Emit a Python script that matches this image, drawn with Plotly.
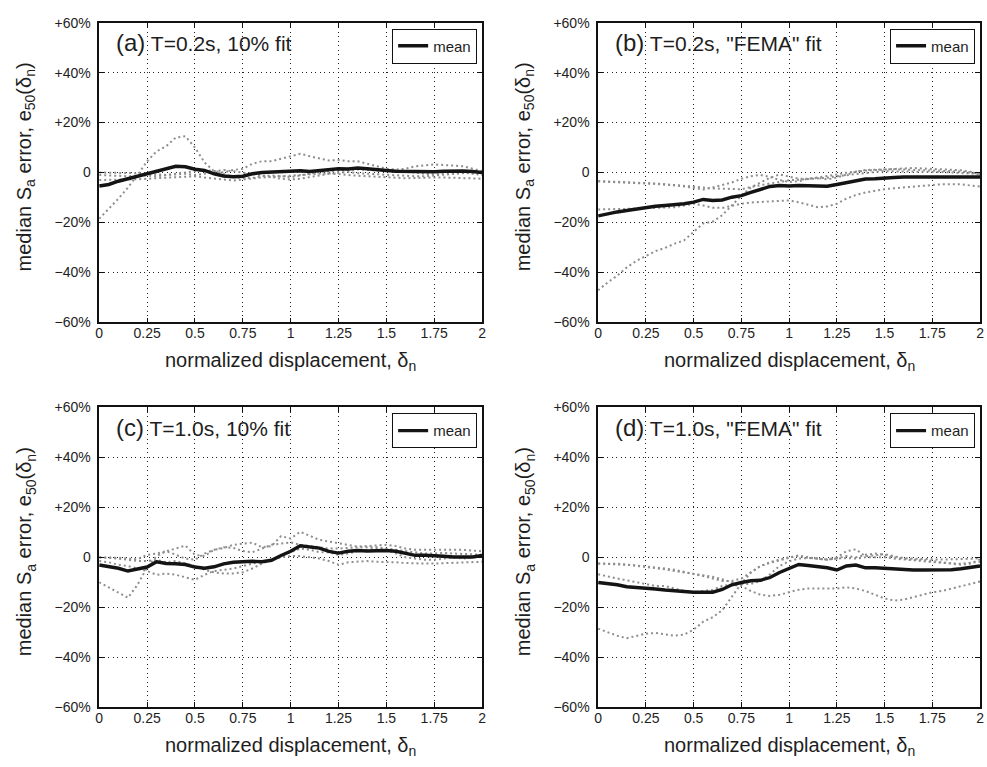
import plotly.graph_objects as go

# normalized displacement grid shared by every curve
disp = [0, 0.05, 0.1, 0.15, 0.2, 0.25, 0.3, 0.35, 0.4, 0.45, 0.5, 0.55, 0.6, 0.65, 0.7,
        0.75, 0.8, 0.85, 0.9, 0.95, 1.0, 1.05, 1.1, 1.15, 1.2, 1.25, 1.3, 1.35, 1.4, 1.45,
        1.5, 1.55, 1.6, 1.65, 1.7, 1.75, 1.8, 1.85, 1.9, 1.95, 2.0]

# (a) T=0.2s, 10% fit  -- error in percent
a_mean = [-5.4, -4.8, -3.5, -2.5, -1.3, -0.3, 0.8, 1.5, 2.5, 2.3, 1.3, 0.8, -0.5, -1.4, -1.7,
          -1.5, -0.5, 0.0, 0.2, 0.3, 0.5, 0.7, 0.4, 0.8, 1.2, 1.5, 1.4, 1.8, 1.5, 1.3,
          0.8, 0.5, 0.4, 0.3, 0.3, 0.3, 0.5, 0.6, 0.6, 0.4, 0.0]
a_rec1 = [-18.5, -14.5, -10.5, -6, -1, 4.5, 8.5, 10.5, 14, 14.5, 10, 4, 0.5, 0, 1,
          1.5, 3.5, 4.5, 4.5, 5.5, 6.5, 7.5, 6.5, 5.5, 4.8, 5, 4.5, 4.5, 3.5, 2.5,
          1.5, 1.2, 1.5, 2.5, 3, 3.2, 3, 2.8, 2.5, 1.5, 0.5]
a_rec2 = [0, 0, 0, 0, -0.3, -0.5, -0.8, -1, -0.8, -0.5, -1, -0.5, 0.5, 1, 0.5,
          0, -0.5, -1, -1.8, -2.5, -2.8, -2.5, -2, -1.2, -0.5, 0, 0.2, -0.3, -0.5, -0.8,
          -1, -1.2, -1.3, -1.5, -1.5, -1.2, -0.8, -0.3, 0, 0.3, 0.3]
a_rec3 = [-3, -3, -3, -2.8, -2.7, -2.5, -2.3, -2, -2, -1.8, -1.5, -2, -2.5, -3, -3.2,
          -2.8, -2.3, -2, -1.8, -1.5, -1.5, -1, -0.8, -0.5, -0.3, -0.5, -1, -1.3, -1.5, -1.8,
          -2, -2.2, -2.3, -2.2, -2, -2, -2, -2.1, -2.2, -2.3, -2.5]
a_rec4 = [-1, -1.2, -1.5, -1.5, -1.3, -1.2, -1.5, -1, -0.5, 0, 0.5, 1, 0.5, -0.8, -1.8,
          -2.3, -2.2, -1.5, -1.2, -1.5, -1.8, -1.2, -0.5, 0.2, 0.5, 0.8, 1, 1.2, 1, 0.8,
          0.8, 0.5, 0.3, 0, -0.5, -0.8, -0.5, 0, 0, -0.5, -1]

# (b) T=0.2s, "FEMA" fit
b_mean = [-17.4, -16.5, -15.8, -15.2, -14.6, -14.1, -13.5, -13.2, -12.9, -12.5, -11.9, -10.8, -11.2, -11, -9.9,
          -9.3, -8, -6.8, -5.6, -5.2, -5.4, -5.2, -5.2, -5.4, -5.5, -4.8, -4, -3.5, -2.6, -2.5,
          -2.4, -2, -1.8, -1.8, -1.7, -1.7, -1.8, -1.8, -1.8, -1.8, -1.8]
b_rec1 = [-47.2, -44, -41.3, -38, -35.4, -33.5, -31.5, -30.2, -28.5, -27.2, -23.7, -20.4, -19.7, -17.1, -13.2,
          -9.3, -6, -4, -2.1, -0.8, -1.8, -2.5, -2.5, -2, -1.4, -0.8, -0.1, 0.4, 0.8, 1,
          1.2, 1.5, 1.8, 1.8, 1.6, 1.5, 1.4, 1.2, 0.9, 0.3, -0.8]
b_rec2 = [-14.8, -14.8, -14.8, -14.6, -14.5, -14.3, -14.2, -14, -13.9, -13.2, -12.5, -13.2, -14.1, -14.2, -13.2,
          -12.5, -12, -11.8, -11.5, -11.2, -11.2, -11.9, -12.8, -13.9, -13.6, -12.5, -10.5, -9, -8, -7.3,
          -6.7, -6.3, -6, -5.5, -5.1, -4.9, -4.7, -4.7, -4.7, -5.2, -5.6]
b_rec3 = [-3.4, -3.5, -3.7, -3.9, -4.1, -4.2, -4.4, -4.7, -5, -5.2, -5.4, -6, -6.4, -6.6, -6.7,
          -6.7, -5.8, -5, -4.4, -3.8, -3.1, -2.9, -2.7, -2.4, -2.1, -1.5, -1, -0.5, -0.1, 0.2,
          0.5, 0.5, 0.5, 0.5, 0.5, 0.3, 0.2, 0, -0.1, -0.4, -0.8]
b_rec4 = [-3.6, -3.7, -3.8, -4, -4.2, -4.4, -4.6, -4.8, -5.2, -5.6, -6.2, -6.8, -6, -5, -4,
          -2.5, -1.5, -1, -1.8, -3, -3.8, -3.5, -2.5, -2.2, -2.8, -2, -0.8, 0.3, 1, 1.2,
          1.2, 1.3, 1.2, 1, 1, 0.9, 0.8, 0.6, 0.4, 0, -0.5]

# (c) T=1.0s, 10% fit
c_mean = [-3.1, -3.8, -4.4, -5.5, -4.8, -3.9, -1.8, -2.5, -2.6, -2.9, -3.9, -4.4, -3.8, -2.6, -2,
          -1.7, -1.6, -1.8, -1.2, 0.7, 2.4, 4.6, 4.3, 3.7, 2.4, 1.7, 2.4, 2.7, 2.5, 2.6,
          2.7, 2.4, 1.7, 0.8, 0.8, 0.7, 0.4, 0.1, 0, 0.1, 0.7]
c_rec1 = [-10, -12, -14, -16.2, -11, -4, 0.5, 2.5, 3.5, 4.7, 1, 0.5, 3, 3.7, 5,
          5.5, 5.9, 4, 4.5, 8.5, 7.5, 10.2, 8.5, 7, 6.3, 5.6, 5, 4.3, 4.5, 4.8,
          5, 4.5, 3.5, 3, 3, 3.2, 3.3, 3.2, 3, 2.7, 2.4]
c_rec2 = [0, 0, -0.2, -0.5, -0.8, 1, 1.5, 2.5, 1, -0.5, -1, 1.5, 3, 4, 3.8,
          2.5, 2, 3.5, 5, 5.5, 6, 5, 4.5, 4, 3.5, 3.5, 3.8, 4, 4, 4,
          3.5, 3, 2.5, 2, 1.5, 1.5, 1.8, 1.5, 1.5, 1.2, 1]
c_rec3 = [-1.5, -2, -3, -3.5, -4.5, -5.5, -7, -6.5, -7, -8, -9, -7, -5.5, -5, -4.5,
          -3.5, -2.5, -2, -1, 0, 0.5, 0.5, 0, -0.5, -1.5, -3, -2, -1.8, -1.5, -1.8,
          -1.8, -2, -2.3, -2.5, -2.5, -2.5, -2.3, -2.3, -2, -2, -1.8]
c_rec4 = [0, -0.2, -0.5, -1, -1.5, -1.5, -1, -2, -1.5, -2.5, -3.5, -5, -6, -6.5, -6.5,
          -6, -4.5, -2.5, -1, 0.5, 2, 3.5, 3, 2, 2, 1, 1.5, 2.5, 3, 3.5,
          3, 1.5, 0, -0.5, -1, -1, -0.5, 0, -0.5, 0, 0.5]

# (d) T=1.0s, "FEMA" fit
d_mean = [-10.1, -10.5, -11, -11.8, -12, -12.3, -12.7, -13.1, -13.5, -13.7, -14, -14, -14, -12.9, -11,
          -10.1, -9.4, -9.2, -8.1, -6.1, -4.6, -2.9, -3.3, -3.8, -4.2, -5.1, -3.5, -3.1, -4.2, -4.2,
          -4.4, -4.8, -5.1, -5.1, -5.1, -5.0, -5.2, -5.0, -4.6, -4.2, -3.5]
d_rec1 = [-28.6, -30.1, -31.4, -32.4, -31.6, -30.6, -30.3, -30.7, -31.4, -31, -29, -25.8, -24, -21.2, -15.9,
          -10.5, -6.1, -3.5, -2.2, -1.3, -0.3, 0.8, -0.2, -0.5, -0.9, 0, 2.4, 3.2, 0.4, 0.8,
          1.3, 0.4, -0.3, -0.5, -0.5, -0.8, -0.9, -0.9, -0.9, -0.6, -0.3]
d_rec2 = [-6.8, -7.5, -8.5, -9.2, -10, -11, -11.5, -11.5, -12.5, -13.5, -14, -13.5, -13, -11.5, -11,
          -11.5, -13.5, -15, -15.5, -15, -14, -13, -12.5, -12.5, -12.8, -12.5, -12, -12.5, -13.5, -15,
          -16.5, -17.3, -17, -16, -15, -14, -13.5, -12.5, -11.5, -10.5, -9.7]
d_rec3 = [-2.5, -2.5, -2.6, -2.9, -3.3, -3.7, -4.2, -4.8, -5.5, -6, -6.5, -7.2, -7.8, -8.8, -10,
          -10.7, -10.7, -9.5, -6.8, -3.5, -1.6, -0.5, -0.3, -0.5, -0.9, -0.5, -0.3, -0.5, 0, 0,
          0, -0.5, -0.9, -1.2, -1.6, -1.9, -2.2, -2.4, -2.6, -2.2, -1.8]
d_rec4 = [-2.5, -2.6, -2.7, -3, -3.3, -3.6, -4, -4.5, -5, -5.8, -6.5, -7.5, -8.5, -9.5, -9.5,
          -8.5, -6, -3.5, -2, -1, 0, 0.5, 0, -0.5, -1, -0.5, 0.5, 0, 1, 1.5,
          1, 0, -0.5, -1, -1, -1.5, -2, -2.5, -3, -2.5, -0.8]

panel_tags = ["(a)", "(b)", "(c)", "(d)"]
panel_titles = ["T=0.2s, 10% fit", 'T=0.2s, "FEMA" fit', "T=1.0s, 10% fit", 'T=1.0s, "FEMA" fit']
x_ticks = [0, 0.25, 0.5, 0.75, 1, 1.25, 1.5, 1.75, 2]
x_tick_text = ["0", "0.25", "0.5", "0.75", "1", "1.25", "1.5", "1.75", "2"]
y_ticks = [-60, -40, -20, 0, 20, 40, 60]
y_tick_text = ["\u221260%", "\u221240%", "\u221220%", "0", "+20%", "+40%", "+60%"]

panels = [
    (a_mean, [a_rec1, a_rec2, a_rec3, a_rec4]),
    (b_mean, [b_rec1, b_rec2, b_rec3, b_rec4]),
    (c_mean, [c_rec1, c_rec2, c_rec3, c_rec4]),
    (d_mean, [d_rec1, d_rec2, d_rec3, d_rec4]),
]

W, H = 987, 767
# plot-area boxes in pixels: left, right, top, bottom
boxes = [(96, 482, 15, 321), (599, 984, 15, 321), (96, 482, 408, 714), (599, 984, 408, 714)]

FONT = "Liberation Sans, Arial, Helvetica, sans-serif"
INK = "#1e1e1e"

fig = go.Figure()
layout = dict(
    width=W, height=H,
    margin=dict(l=0, r=0, t=0, b=0, pad=0),
    paper_bgcolor="white", plot_bgcolor="white",
    font=dict(family=FONT, color=INK),
    annotations=[],
)

for i, ((mean, recs), (l, r, t, b)) in enumerate(zip(panels, boxes)):
    n = "" if i == 0 else str(i + 1)
    xa, ya = "x" + n, "y" + n
    leg = "legend" + n

    for rec in recs:
        fig.add_trace(go.Scatter(
            x=disp, y=rec, xaxis=xa, yaxis=ya, mode="lines",
            line=dict(color="#8e8e8e", width=2, dash="2px,3px"),
            showlegend=False, hoverinfo="skip"))
    fig.add_trace(go.Scatter(
        x=disp, y=mean, xaxis=xa, yaxis=ya, mode="lines", name="mean",
        line=dict(color="#141414", width=3.4), legend=leg))

    axis_common = dict(
        showline=True, linecolor="#111", linewidth=1.5, mirror="ticks",
        ticks="inside", ticklen=5, tickcolor="#111", tickwidth=1,
        showgrid=True, gridcolor="#222", gridwidth=1, griddash="1px,3.5px",
        zeroline=False, tickfont=dict(family=FONT, size=14, color=INK),
    )
    layout["xaxis" + n] = dict(
        axis_common, domain=[l / W, r / W], anchor=ya, range=[0, 2],
        tickvals=x_ticks, ticktext=x_tick_text, ticklabelstandoff=-3)
    layout["yaxis" + n] = dict(
        axis_common, domain=[1 - b / H, 1 - t / H], anchor=xa, range=[-60, 60],
        tickvals=y_ticks, ticktext=y_tick_text, ticklabelstandoff=4)

    layout[leg] = dict(
        x=(r - 5) / W, y=1 - (t + 6) / H, xanchor="right", yanchor="top",
        bgcolor="white", bordercolor="#111", borderwidth=1,
        font=dict(family=FONT, size=15, color=INK), itemwidth=30,
        tracegroupgap=0)

    # panel label
    layout["annotations"].append(dict(
        xref="paper", yref="paper", x=(l + 15) / W, y=1 - (t + 20) / H,
        xanchor="left", yanchor="middle", showarrow=False,
        text="<span style='font-size:24px'>" + panel_tags[i] + "</span> " + panel_titles[i],
        font=dict(family=FONT, size=21, color=INK)))
    # x-axis title
    layout["annotations"].append(dict(
        xref="paper", yref="paper", x=(l + r) / 2 / W, y=1 - (b + 40) / H,
        xanchor="center", yanchor="middle", showarrow=False,
        text="normalized displacement, \u03b4<sub>n</sub>",
        font=dict(family=FONT, size=20, color=INK)))
    # y-axis title
    layout["annotations"].append(dict(
        xref="paper", yref="paper", x=(l - 74) / W, y=1 - ((t + b) / 2 - 6) / H,
        xanchor="center", yanchor="middle", showarrow=False, textangle=-90,
        text="median S<sub>a</sub> error, e<sub>50</sub>(\u03b4<sub>n</sub>)",
        font=dict(family=FONT, size=20, color=INK)))

fig.update_layout(**layout)
fig.write_html("out.html")
